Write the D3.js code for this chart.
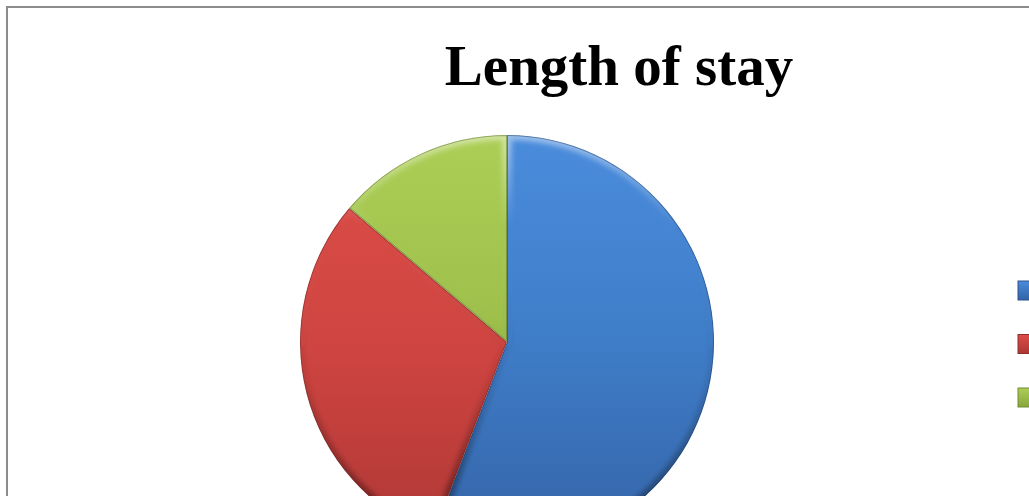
<!DOCTYPE html>
<html>
<head>
<meta charset="utf-8">
<script src="https://cdn.jsdelivr.net/npm/d3@7"></script>
<style>
  html, body { margin: 0; padding: 0; background: #fff; overflow: hidden; }
</style>
</head>
<body>
<div id="chart"></div>
<script>
var categories = ["1-3 days", "4-7 days", "> 7 days"];
var values = [55.8, 30.4, 13.8];
var topColors = ["#4a8cdc", "#dc4d48", "#acce56"];
var midColors = ["#3f7dc8", "#d04541", "#9dbf4a"];
var bottomColors = ["#3463a6", "#ad3735", "#88a63c"];

var width = 1029;
var height = 496;
var cx = 507, cy = 342, radius = 207;

var svg = d3.select("#chart").append("svg")
    .attr("width", width)
    .attr("height", height);

var defs = svg.append("defs");

// soft blur used for the bevelled rims
defs.append("filter")
    .attr("id", "rimBlur")
    .attr("x", "-20%").attr("y", "-20%")
    .attr("width", "140%").attr("height", "140%")
    .append("feGaussianBlur")
    .attr("stdDeviation", 2.5);

// gradients live in the pie group's local space (centre at 0,0)
var rim = defs.append("linearGradient")
    .attr("id", "rimGrad")
    .attr("gradientUnits", "userSpaceOnUse")
    .attr("x1", 0).attr("y1", -radius)
    .attr("x2", 0).attr("y2", radius);
rim.append("stop").attr("offset", "0%").attr("stop-color", "#fff").attr("stop-opacity", 0.45);
rim.append("stop").attr("offset", "22%").attr("stop-color", "#fff").attr("stop-opacity", 0.0);
rim.append("stop").attr("offset", "60%").attr("stop-color", "#000").attr("stop-opacity", 0.08);
rim.append("stop").attr("offset", "100%").attr("stop-color", "#000").attr("stop-opacity", 0.45);

categories.forEach(function(c, i) {
    var g = defs.append("linearGradient")
        .attr("id", "fill" + i)
        .attr("gradientUnits", "userSpaceOnUse")
        .attr("x1", 0).attr("y1", -radius)
        .attr("x2", 0).attr("y2", radius);
    g.append("stop").attr("offset", "0%").attr("stop-color", topColors[i]);
    g.append("stop").attr("offset", "50%").attr("stop-color", midColors[i]);
    g.append("stop").attr("offset", "100%").attr("stop-color", bottomColors[i]);

    var lg = defs.append("linearGradient")
        .attr("id", "legendFill" + i)
        .attr("x1", 0).attr("y1", 0).attr("x2", 0).attr("y2", 1);
    lg.append("stop").attr("offset", "0%").attr("stop-color", topColors[i]);
    lg.append("stop").attr("offset", "100%").attr("stop-color", bottomColors[i]);
});

// outer chart frame
svg.append("rect")
    .attr("x", 7).attr("y", 7)
    .attr("width", 1200).attr("height", 700)
    .attr("fill", "none")
    .attr("stroke", "#8c8c8c")
    .attr("stroke-width", 2);

svg.append("text")
    .attr("x", 619)
    .attr("y", 85)
    .attr("text-anchor", "middle")
    .attr("font-family", "'Liberation Serif', 'Times New Roman', serif")
    .attr("font-weight", "bold")
    .attr("font-size", "57px")
    .attr("fill", "#000")
    .text("Length of stay");

var pie = d3.pie().sort(null).value(function(d) { return d; });
var arc = d3.arc().innerRadius(0).outerRadius(radius);
var arcs = pie(values);

var pieG = svg.append("g").attr("transform", "translate(" + cx + "," + cy + ")");

arcs.forEach(function(a, i) {
    var clipId = "clip" + i;
    defs.append("clipPath")
        .attr("id", clipId)
        .append("path")
        .attr("d", arc(a));

    var sg = pieG.append("g").attr("clip-path", "url(#" + clipId + ")");
    sg.append("path")
        .attr("d", arc(a))
        .attr("fill", "url(#fill" + i + ")");
    sg.append("path")
        .attr("d", arc(a))
        .attr("fill", "none")
        .attr("stroke", "url(#rimGrad)")
        .attr("stroke-width", 10)
        .attr("filter", "url(#rimBlur)");
    sg.append("path")
        .attr("d", arc(a))
        .attr("fill", "none")
        .attr("stroke", d3.color(bottomColors[i]).darker(1))
        .attr("stroke-opacity", 0.55)
        .attr("stroke-width", 2);
});

// legend, runs off the right edge
var legendY = d3.scalePoint().domain(categories).range([290, 397]);
categories.forEach(function(c, i) {
    var y = legendY(c);
    svg.append("rect")
        .attr("x", 1018).attr("y", y - 9)
        .attr("width", 14).attr("height", 19)
        .attr("fill", "url(#legendFill" + i + ")")
        .attr("stroke", d3.color(bottomColors[i]).darker(0.5))
        .attr("stroke-width", 1);
    svg.append("text")
        .attr("x", 1045).attr("y", y + 6)
        .attr("font-family", "'Liberation Serif', serif")
        .attr("font-size", "18px")
        .text(c);
});
</script>
</body>
</html>
